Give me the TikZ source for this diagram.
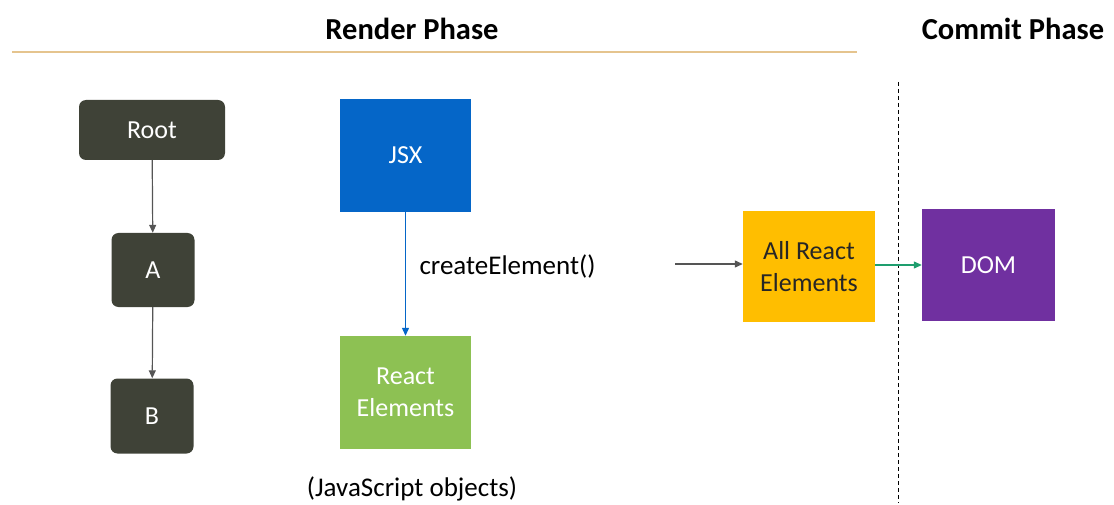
\documentclass[tikz,border=0pt]{standalone}
\usepackage{fontspec}
\setmainfont{Carlito}
\usetikzlibrary{arrows.meta}
\definecolor{olive}{HTML}{3F4237}
\definecolor{jsxblue}{HTML}{0566C8}
\definecolor{rgreen}{HTML}{8DC153}
\definecolor{amber}{HTML}{FFBE00}
\definecolor{purp}{HTML}{7030A0}
\definecolor{tan}{HTML}{E5C48E}
\definecolor{garrow}{HTML}{1E9E6E}
\definecolor{grayarrow}{HTML}{555555}
\begin{document}
\begin{tikzpicture}[x=1pt,y=-1pt,
  treebox/.style={fill=olive,rounded corners=7pt,text=white,font=\fontsize{26}{31}\selectfont,draw=none,inner sep=0pt},
  sqbox/.style={draw=none,inner sep=0pt,align=center,font=\fontsize{26}{32}\selectfont},
  title/.style={font=\fontsize{30.5}{36}\selectfont\bfseries},
  plain/.style={font=\fontsize{27}{32}\selectfont},
  arr/.style={-{Triangle[length=8pt,width=7pt]},line width=1.2pt}
]
\useasboundingbox (0,0) rectangle (1114,505);
\node[title] (render) at (412,29) {Render Phase};
\node[title] (commit) at (1013,29) {Commit Phase};
\draw[tan,line width=2pt] (12,52) -- (857,52);
\coordinate (dtop) at (898,82);
\coordinate (dbot) at (898,503);
\draw[black,dashed,dash pattern=on 4pt off 3pt,line width=1pt] (dtop) -- (dbot);

\node[treebox,minimum width=146pt,minimum height=60pt] (root) at (152,130) {Root};
\node[treebox,minimum width=83pt,minimum height=74pt] (a) at (153,270) {A};
\node[treebox,minimum width=83pt,minimum height=75pt] (b) at (152,416) {B};
\draw[arr,grayarrow] (root) -- (a);
\draw[arr,grayarrow] (a) -- (b);

\node[sqbox,fill=jsxblue,text=white,minimum width=131pt,minimum height=113pt] (jsx) at (405.5,155.5) {JSX};
\node[sqbox,fill=rgreen,text=white,minimum width=131pt,minimum height=113pt] (relem) at (405.5,392.5) {React\\Elements};
\draw[arr,jsxblue] (jsx) -- (relem);
\node[plain,anchor=west] (ce) at (416,266) {createElement()};
\node[plain] (jso) at (412,489) {(JavaScript objects)};

\node[sqbox,fill=amber,text=black!85,minimum width=132pt,minimum height=111pt] (all) at (809,266.5) {All React\\Elements};
\node[sqbox,fill=purp,text=white,minimum width=133pt,minimum height=112pt] (dom) at (988.5,265) {DOM};
\coordinate (src) at (675,264);
\draw[arr,grayarrow] (src) -- (all.west |- src);
\draw[arr,garrow] (all.east |- 0,265) -- (dom.west |- 0,265);
\end{tikzpicture}
\end{document}
